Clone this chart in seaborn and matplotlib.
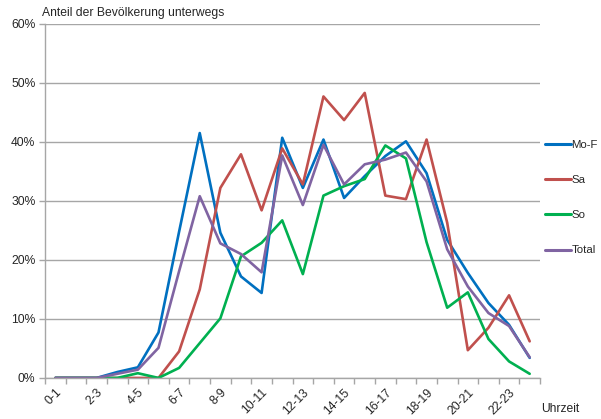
import numpy as np
import pandas as pd
import matplotlib
matplotlib.use("Agg")
import matplotlib.pyplot as plt
import seaborn as sns
from matplotlib.ticker import FixedLocator

# Hour slots of the day
hours = [f"{h}-{h+1}" for h in range(24)]

# Share of the population on the move (%), per hour slot
mo_f = [0, 0, 0, 1.0, 1.8, 7.7, 24.8, 41.5, 24.6, 17.2, 14.4, 40.7,
        32.2, 40.4, 30.5, 34.2, 37.6, 40.1, 34.7, 23.4, 17.8, 12.7, 9.0, 3.4]
sa = [0, 0, 0, 0, 0, 0, 4.5, 15.0, 32.2, 37.9, 28.4, 38.9,
      32.8, 47.7, 43.7, 48.3, 30.9, 30.3, 40.4, 26.3, 4.7, 8.5, 14.0, 6.2]
so = [0, 0, 0, 0, 0.8, 0, 1.7, 5.9, 10.1, 20.6, 22.9, 26.7,
      17.6, 30.9, 32.5, 33.7, 39.4, 37.2, 23.0, 11.9, 14.5, 6.6, 2.8, 0.7]
total = [0, 0, 0, 0.7, 1.4, 5.1, 18.1, 30.8, 22.8, 21.0, 17.9, 37.7,
         29.3, 39.5, 32.8, 36.2, 37.0, 38.2, 33.3, 21.8, 15.5, 11.0, 8.8, 3.5]

series_names = ["Mo-F", "Sa", "So", "Total"]
series_colors = ["#0070C0", "#C0504D", "#00B050", "#8064A2"]

frames = []
for name, vals in zip(series_names, [mo_f, sa, so, total]):
    frames.append(pd.DataFrame({"slot": np.arange(len(hours)),
                                "value": np.array(vals) / 100.0,
                                "series": name}))
df = pd.concat(frames, ignore_index=True)

sns.set_style("white")
plt.rcParams["font.family"] = ["Liberation Sans", "DejaVu Sans"]
FS = 8.7

fig = plt.figure(figsize=(6.01, 4.19), dpi=100)
ax = fig.add_axes([0.075, 0.098, 0.8235, 0.845])

sns.lineplot(data=df, x="slot", y="value", hue="series",
             hue_order=series_names, palette=series_colors,
             linewidth=1.9, ax=ax, legend=True)

grid_color = "#A6A6A6"
ax.set_xlim(-0.5, len(hours) - 0.5)
ax.set_ylim(0, 0.6)
ax.set_yticks(np.arange(0, 0.61, 0.1))
ax.set_yticklabels([f"{int(round(v * 100))}%" for v in np.arange(0, 0.61, 0.1)],
                   fontsize=FS)
ax.yaxis.grid(True, color=grid_color, linewidth=1.0)
ax.set_axisbelow(True)

# Labels on every other hour slot, tick marks on slot boundaries
ax.set_xticks(np.arange(0, len(hours), 2))
ax.set_xticklabels(hours[::2], rotation=45, ha="right",
                   rotation_mode="anchor", fontsize=FS)
ax.xaxis.set_minor_locator(FixedLocator(np.arange(-0.5, len(hours), 1)))
ax.tick_params(axis="x", which="major", length=0, pad=6)
ax.tick_params(axis="x", which="minor", length=4, color=grid_color,
               width=1.0, direction="out", bottom=True)
ax.tick_params(axis="y", which="major", length=4, color=grid_color,
               width=1.0, direction="out", left=True, pad=3)

for side in ["top", "right"]:
    ax.spines[side].set_visible(False)
for side in ["left", "bottom"]:
    ax.spines[side].set_color(grid_color)
    ax.spines[side].set_linewidth(1.0)

ax.set_xlabel("")
ax.set_ylabel("")

fig.text(42 / 601, 1 - 13 / 419, "Anteil der Bevölkerung unterwegs",
         fontsize=FS, ha="left", va="center")
fig.text(541 / 601, 1 - 409 / 419, "Uhrzeit", fontsize=FS,
         ha="left", va="center")

leg = ax.legend(loc="upper left", bbox_to_anchor=(1.0, 0.684),
                frameon=False, fontsize=8.2, handlelength=2.3,
                handletextpad=0.05, labelspacing=2.2, borderaxespad=0)
for line in leg.get_lines():
    line.set_linewidth(2.2)

fig.savefig("out.png", dpi=100)
